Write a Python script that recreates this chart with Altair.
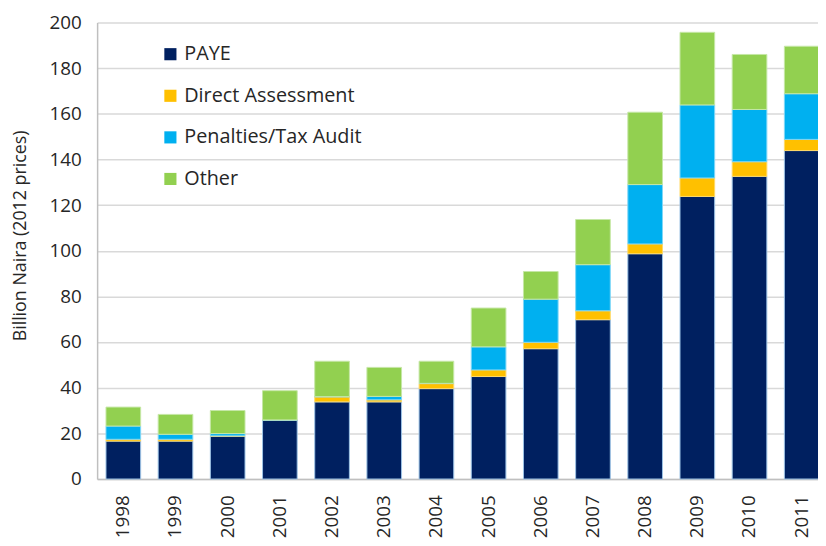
import altair as alt
import pandas as pd

years = ["1998", "1999", "2000", "2001", "2002", "2003", "2004",
         "2005", "2006", "2007", "2008", "2009", "2010", "2011"]
series = ["PAYE", "Direct Assessment", "Penalties/Tax Audit", "Other"]
paye = [16.6, 16.6, 18.7, 25.8, 33.8, 33.8, 39.6, 44.9, 57.1, 69.8, 98.7, 123.8, 132.6, 143.9]
direct = [0.8, 0.8, 0.2, 0.0, 2.2, 0.9, 2.2, 2.9, 2.8, 3.9, 4.3, 8.1, 6.4, 4.9]
penalties = [5.8, 2.2, 1.0, 0.1, 0.1, 1.5, 0.1, 10.1, 18.9, 20.2, 26.0, 32.0, 22.9, 20.0]
other = [8.3, 8.7, 10.1, 12.8, 15.5, 12.7, 9.7, 17.0, 12.1, 19.8, 31.7, 31.8, 24.1, 20.8]
colors = ["#002060", "#FFC000", "#00B0F0", "#92D050"]
edges = ["#9DC3E6", "#FFD966", "#7FD7F7", "#C5E7A6"]

rows = []
for i, y in enumerate(years):
    for k, (name, vals) in enumerate(zip(series, [paye, direct, penalties, other])):
        rows.append({"year": y, "series": name, "value": vals[i], "idx": k})
df = pd.DataFrame(rows)

FONT = "Open Sans"

chart = alt.Chart(df).mark_bar(strokeWidth=1).encode(
    x=alt.X("year:N", sort=years, title=None,
            scale=alt.Scale(range=[0, 738], paddingInner=0.336, paddingOuter=0.17),
            axis=alt.Axis(labelAngle=270, labelFontSize=19, labelFont=FONT, labelColor="#262626",
                          labelPadding=16, ticks=False, domainColor="#BFBFBF", domainWidth=1.5)),
    y=alt.Y("value:Q", stack="zero", title="Billion Naira (2012 prices)",
            scale=alt.Scale(domain=[0, 200], nice=False),
            axis=alt.Axis(values=list(range(0, 201, 20)), labelFontSize=19, labelFont=FONT,
                          labelColor="#262626", labelPadding=16, ticks=False,
                          domainColor="#BFBFBF", domainWidth=1.5,
                          gridColor="#D9D9D9", gridWidth=1.5,
                          titleFont=FONT, titleFontSize=18, titleFontWeight="normal",
                          titleColor="#262626", titleX=-77, titleY=215, titleAngle=270,
                          titleAlign="center", titleBaseline="middle")),
    fill=alt.Fill("series:N", sort=series,
                  scale=alt.Scale(domain=series, range=colors),
                  legend=alt.Legend(title=None, orient="none", legendX=64, legendY=22,
                                    symbolType="square", symbolSize=150, symbolStrokeWidth=0,
                                    labelFont=FONT, labelFontSize=20, labelColor="#262626",
                                    labelLimit=0, rowPadding=22, labelOffset=4)),
    stroke=alt.Stroke("series:N", scale=alt.Scale(domain=series, range=edges), legend=None),
    order=alt.Order("idx:Q", sort="ascending"),
).properties(
    width=728, height=461,
    autosize=alt.AutoSizeParams(type="none"),
    padding={"left": 90, "top": 12, "right": 0, "bottom": 65},
).configure_view(stroke=None)

chart.save("out.html", embed_options={"renderer": "svg", "actions": False})
